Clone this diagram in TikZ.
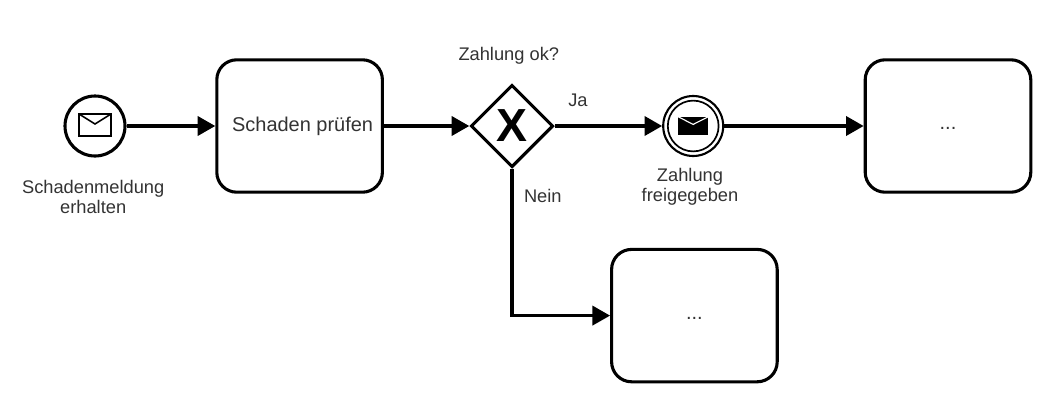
\documentclass[tikz,border=0pt]{standalone}
\usepackage{fontspec}
\setmainfont{Liberation Sans}
\usetikzlibrary{arrows.meta,shapes.geometric}

\definecolor{labelgray}{HTML}{333333}
\tikzset{
    flow/.style={line width=2.2pt, -{Triangle[length=4.4mm,width=4.8mm]}},
    taskbox/.style={draw, line width=2.2pt, rounded corners=5mm, minimum width=4.14cm, minimum height=3.31cm, text=labelgray, font=\fontsize{14.2}{17}\selectfont},
    eventring/.style={draw, circle, line width=2.2pt, minimum size=1.5cm, inner sep=0pt},
    gateway/.style={draw, diamond, line width=2.2pt, minimum size=2.06cm, inner sep=0pt, font=\fontsize{33}{33}\bfseries\selectfont},
    caption/.style={text=labelgray, align=center, inner sep=0pt, font=\fontsize{13}{14.2}\selectfont},
    envelope/.pic={
        \draw[line width=1.1pt] (-0.4,-0.25) rectangle (0.4,0.3);
        \draw[line width=1.1pt] (-0.4,0.3) -- (0,0.05) -- (0.4,0.3);
    },
    envelopefilled/.pic={
        \fill (-0.375,-0.23) rectangle (0.375,0.23);
        \draw[white, line width=0.8pt] (-0.375,0.23) -- (0,0.04) -- (0.375,0.23);
    }
}

\begin{document}
\begin{tikzpicture}
    \useasboundingbox (0,0) rectangle (26.575,10.35);

    \node[eventring] (start) at (2.375,7.2){};
    \pic at (start) {envelope};
    \node[taskbox] (check) at (7.49,7.2){\hspace*{1.5mm}Schaden prüfen};
    \node[gateway] (xor) at (12.8,7.2){X};

    % catching event with its inner ring
    \node[eventring, line width=1.5pt] (released) at (17.33,7.2){};
    \node[draw, circle, line width=1.2pt, minimum size=1.27cm, inner sep=0pt] (releasedin) at (released){};
    \pic at (released) {envelopefilled};

    \node[taskbox] (next) at (23.7,7.2){\raisebox{-0.16cm}{...}};
    \node[taskbox] (other) at (17.36,2.46){\raisebox{-0.2cm}{...}};

    \draw[flow] (start) -- (check);
    \draw[flow] (check) -- (xor);
    \draw[flow] (xor) -- (released);
    \draw[flow] (released) -- (next);
    \draw[flow] (xor.south) |- (other.west);

    \node[caption] (startlabel) at (2.33,5.42){Schadenmeldung\\erhalten};
    \node[caption] (question) at (12.72,8.95){Zahlung ok?};
    \node[caption] (yes) at (14.45,7.85){Ja};
    \node[caption] (no) at (13.57,5.45){Nein};
    \node[caption] (releasedlabel) at (17.25,5.69){Zahlung\\freigegeben};
\end{tikzpicture}
\end{document}
